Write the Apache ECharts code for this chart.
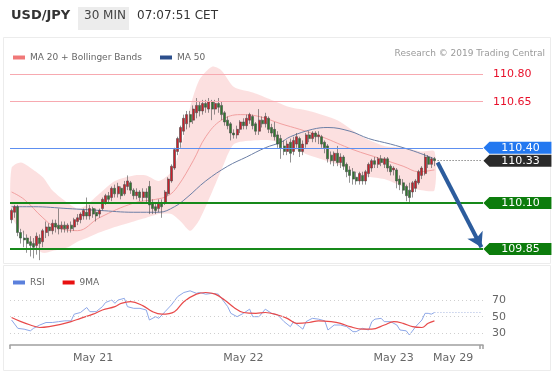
<!DOCTYPE html>
<html>
<head>
<meta charset="utf-8">
<script src="https://cdn.jsdelivr.net/npm/echarts@6/dist/echarts.min.js"></script>
<style>
  html, body { margin: 0; padding: 0; background: #fff; }
  #chart { width: 554px; height: 376px; }
</style>
</head>
<body>
<div id="chart"></div>
<script>
// 30 min candles, May 20 11:00 -> May 23 07:00 (index 0..135)
const opens = [
  110.01,110.05,110.08,109.94,109.91,109.91,109.89,109.88,109.87,109.91,
  109.89,109.94,109.97,109.95,109.99,109.98,109.96,109.98,109.96,109.98,
  109.97,110.00,110.01,110.03,110.05,110.03,110.07,110.05,110.04,110.07,
  110.10,110.14,110.13,110.18,110.15,110.18,110.15,110.19,110.21,110.17,
  110.14,110.16,110.13,110.16,110.19,110.10,110.08,110.07,110.10,110.10,
  110.15,110.22,110.29,110.38,110.43,110.49,110.53,110.58,110.55,110.59,
  110.63,110.60,110.64,110.61,110.65,110.61,110.64,110.63,110.59,110.55,
  110.53,110.48,110.47,110.50,110.54,110.52,110.55,110.57,110.53,110.49,
  110.55,110.53,110.56,110.51,110.50,110.47,110.45,110.41,110.38,110.43,
  110.38,110.42,110.45,110.38,110.42,110.47,110.45,110.48,110.46,110.46,
  110.43,110.41,110.36,110.33,110.37,110.32,110.35,110.31,110.28,110.27,
  110.24,110.22,110.25,110.22,110.26,110.29,110.33,110.31,110.34,110.31,
  110.34,110.30,110.28,110.28,110.23,110.21,110.19,110.17,110.16,110.18,
  110.21,110.25,110.26,110.35,110.31,110.34
];
const closes = [
  110.06,110.08,109.94,109.91,109.90,109.88,109.87,109.86,109.92,109.88,
  109.95,109.97,109.95,109.99,109.97,109.96,109.98,109.96,109.98,109.96,
  110.01,110.02,110.04,110.06,110.03,110.07,110.04,110.03,110.06,110.12,
  110.14,110.12,110.18,110.15,110.19,110.14,110.20,110.22,110.17,110.14,
  110.16,110.13,110.16,110.13,110.09,110.07,110.06,110.10,110.08,110.16,
  110.23,110.30,110.39,110.45,110.51,110.56,110.58,110.54,110.61,110.63,
  110.60,110.64,110.62,110.65,110.61,110.64,110.62,110.58,110.54,110.52,
  110.48,110.47,110.50,110.54,110.52,110.56,110.58,110.52,110.49,110.55,
  110.53,110.57,110.50,110.48,110.46,110.42,110.40,110.38,110.42,110.37,
  110.44,110.46,110.38,110.42,110.47,110.45,110.48,110.46,110.47,110.42,
  110.40,110.34,110.33,110.37,110.32,110.35,110.30,110.27,110.25,110.23,
  110.22,110.26,110.22,110.27,110.31,110.33,110.31,110.34,110.32,110.34,
  110.29,110.27,110.29,110.22,110.20,110.17,110.14,110.13,110.21,110.22,
  110.27,110.29,110.35,110.31,110.34,110.33
];
const lows = [
  109.99,110.02,109.92,109.88,109.86,109.83,109.81,109.80,109.82,109.79,
  109.86,109.91,109.92,109.93,109.94,109.93,109.94,109.94,109.94,109.94,
  109.95,109.98,109.99,110.01,110.01,110.01,110.02,110.00,110.02,110.06,
  110.09,110.10,110.11,110.13,110.13,110.12,110.14,110.17,110.15,110.12,
  110.12,110.11,110.11,110.10,110.04,110.04,110.04,110.05,110.02,110.09,
  110.14,110.21,110.28,110.36,110.40,110.47,110.50,110.51,110.53,110.56,
  110.57,110.58,110.59,110.59,110.55,110.58,110.59,110.55,110.52,110.50,
  110.44,110.45,110.45,110.48,110.50,110.50,110.53,110.50,110.47,110.47,
  110.51,110.51,110.48,110.46,110.44,110.40,110.34,110.36,110.36,110.32,
  110.36,110.40,110.35,110.36,110.40,110.43,110.43,110.43,110.42,110.40,
  110.37,110.32,110.31,110.30,110.30,110.29,110.28,110.24,110.21,110.20,
  110.20,110.20,110.20,110.20,110.24,110.27,110.29,110.29,110.30,110.29,
  110.27,110.25,110.25,110.18,110.17,110.15,110.11,110.10,110.13,110.16,
  110.20,110.23,110.25,110.29,110.29,110.30
];
const highs = [
  110.07,110.09,110.09,109.96,109.95,109.93,109.92,109.91,109.94,109.93,
  109.96,110.00,109.99,110.01,110.01,110.07,110.00,110.00,109.99,110.00,
  110.02,110.04,110.05,110.07,110.13,110.09,110.08,110.07,110.07,110.13,
  110.15,110.16,110.19,110.20,110.21,110.19,110.22,110.25,110.22,110.18,
  110.18,110.17,110.18,110.18,110.22,110.12,110.10,110.12,110.12,110.17,
  110.24,110.31,110.40,110.46,110.52,110.58,110.60,110.60,110.63,110.67,
  110.65,110.66,110.66,110.67,110.66,110.66,110.67,110.65,110.60,110.57,
  110.54,110.50,110.52,110.55,110.56,110.58,110.59,110.58,110.54,110.61,
  110.57,110.59,110.57,110.53,110.54,110.49,110.47,110.44,110.44,110.45,
  110.46,110.48,110.46,110.44,110.48,110.49,110.49,110.49,110.49,110.47,
  110.44,110.42,110.38,110.38,110.41,110.37,110.36,110.32,110.30,110.29,
  110.27,110.27,110.27,110.28,110.32,110.34,110.35,110.35,110.36,110.35,
  110.35,110.31,110.30,110.29,110.25,110.23,110.20,110.21,110.22,110.23,
  110.28,110.30,110.37,110.36,110.35,110.35
];

// Bollinger band (MA 20 +/- 2 sd), read at sample candles
const bandIdx = [0, 3, 7, 10, 13, 18, 21, 24, 28, 33, 39, 43, 47, 51, 54, 57, 60, 64, 67, 71, 77, 83, 89, 95, 104, 112, 119, 125, 131, 135];
const bandUp = [110.29,110.32,110.28,110.24,110.17,110.10,110.07,110.09,110.15,110.22,110.25,110.25,110.22,110.27,110.40,110.62,110.77,110.84,110.82,110.73,110.70,110.66,110.62,110.60,110.55,110.46,110.41,110.40,110.38,110.38];
const bandLow = [110.03,109.95,109.87,109.83,109.84,109.86,109.89,109.91,109.94,109.97,110.00,110.02,110.04,110.04,110.00,109.95,110.01,110.16,110.28,110.42,110.44,110.44,110.40,110.36,110.31,110.25,110.23,110.19,110.17,110.17];

const ma20Idx = [0, 4, 10, 14, 21, 28, 39, 46, 50, 53, 58, 62, 67, 73, 79, 86, 92, 99, 109, 118, 125, 130, 135];
const ma20 = [110.16,110.12,110.02,109.97,109.95,110.02,110.10,110.12,110.14,110.19,110.33,110.46,110.55,110.58,110.57,110.53,110.50,110.46,110.39,110.34,110.30,110.27,110.28];

const ma50Idx = [0, 7, 18, 28, 39, 47, 52, 56, 62, 69, 75, 81, 86, 89, 96, 101, 108, 114, 121, 127, 132, 135];
const ma50 = [110.08,110.08,110.07,110.06,110.05,110.05,110.08,110.13,110.22,110.30,110.35,110.40,110.43,110.46,110.50,110.51,110.49,110.45,110.42,110.39,110.36,110.34];

const rsiIdx = [0,2,4,6,7,9,11,13,15,17,19,20,22,24,25,27,29,30,32,33,34,36,37,39,41,43,44,46,47,49,51,53,55,57,59,60,62,64,66,67,69,70,72,74,76,77,79,81,83,85,87,89,90,92,93,94,96,98,100,101,103,105,107,109,110,112,114,115,116,118,119,121,123,124,126,127,129,131,132,133,134,135];
const rsi = [46,36,35,33,36,40,43,43,44,45,45,53,55,61,56,56,62,67,70,66,70,72,62,60,60,58,46,50,48,56,64,74,79,81,78,79,77,78,77,72,62,54,50,54,59,50,50,59,54,52,44,38,44,38,35,44,48,47,45,34,40,40,38,32,32,36,34,44,47,48,44,44,40,34,33,28,38,46,54,54,53,55];

const rsiMaIdx = [0,3,6,9,12,16,19,22,26,29,33,35,38,42,45,48,52,55,59,62,65,68,71,74,78,81,85,88,91,95,98,102,105,108,112,115,119,122,125,128,131,133,135];
const rsiMa = [49,44,40,37,38,41,44,48,53,58,62,66,68,63,56,53,56,68,77,79,77,70,61,55,54,55,52,48,42,43,45,44,42,38,35,35,40,44,42,38,37,42,45];

const resistances = [110.80, 110.65];
const pivot = 110.40;
const lastPrice = 110.33;
const supports = [110.10, 109.85];
const target = 109.86;
const rsiLevels = [30, 50, 70];
const rsiLast = 55;

const tickIndex = [26, 74, 122, 141];
const tickLabels = ['May 21', 'May 22', 'May 23', 'May 29'];

const SLOTS = 151;
const LAST = opens.length - 1;
const FONT = 'DejaVu Sans';
const slots = Array.from({ length: SLOTS }, (_, k) => String(k));
const candles = opens.map((o, k) => [o, closes[k], lows[k], highs[k]]);
const pairs = (xs, ys) => xs.map((x, k) => [x, ys[k]]);
const tagPath = 'path://M0,6L6,0L68,0L68,12L6,12Z';

function tag(value, color) {
  return { coord: [SLOTS - 1, value], value: value, itemStyle: { color: color } };
}

const chart = echarts.init(document.getElementById('chart'), null, { renderer: 'canvas' });

chart.setOption({
  animation: false,
  backgroundColor: '#fff',
  textStyle: { fontFamily: FONT },
  graphic: [
    { type: 'rect', shape: { x: 3.5, y: 37.5, width: 547, height: 226 }, style: { fill: 'none', stroke: '#ececec' }, silent: true },
    { type: 'rect', shape: { x: 3.5, y: 265.5, width: 547, height: 105 }, style: { fill: 'none', stroke: '#ececec' }, silent: true },
    { type: 'text', left: 11, top: 9, style: { text: 'USD/JPY', font: 'bold 13px "DejaVu Sans"', fill: '#333' } },
    { type: 'rect', shape: { x: 78, y: 7, width: 51, height: 23 }, style: { fill: '#ececec' }, silent: true },
    { type: 'text', left: 84, top: 10, style: { text: '30 MIN', font: '12px "DejaVu Sans"', fill: '#444' } },
    { type: 'text', left: 137, top: 10, style: { text: '07:07:51 CET', font: '12px "DejaVu Sans"', fill: '#333' } },
    { type: 'text', right: 9, top: 49, style: { text: 'Research \u00a9 2019 Trading Central', font: '9px "DejaVu Sans"', fill: '#9a9a9a' } }
  ],
  legend: [
    {
      left: 8, top: 48, icon: 'rect', itemWidth: 12, itemHeight: 4, itemGap: 18,
      textStyle: { fontSize: 9, color: '#666', fontFamily: FONT },
      data: [
        { name: 'MA 20 + Bollinger Bands', itemStyle: { color: '#f07878' } },
        { name: 'MA 50', itemStyle: { color: '#2c4f8c' } }
      ]
    },
    {
      left: 8, top: 273, icon: 'rect', itemWidth: 12, itemHeight: 4, itemGap: 18,
      textStyle: { fontSize: 9, color: '#666', fontFamily: FONT },
      data: [
        { name: 'RSI', itemStyle: { color: '#5b80dc' } },
        { name: '9MA', itemStyle: { color: '#e81010' } }
      ]
    }
  ],
  grid: [
    { left: 10, top: 40, width: 473, height: 222 },
    { left: 10, top: 285, width: 473, height: 60 }
  ],
  xAxis: [
    { type: 'category', gridIndex: 0, data: slots, boundaryGap: true, show: false },
    {
      type: 'category', gridIndex: 1, data: slots, boundaryGap: true,
      axisLine: { lineStyle: { color: '#a0a0a0', width: 1.5 } },
      axisTick: { show: true, length: 4, lineStyle: { color: '#a0a0a0', width: 1.5 },
        interval: (i) => i === 0 || i === SLOTS - 1 },
      axisLabel: {
        color: '#666', fontSize: 11, margin: 8, fontFamily: FONT,
        interval: (i) => tickIndex.indexOf(i) >= 0,
        formatter: (v, i) => { const k = tickIndex.indexOf(i); return k >= 0 ? tickLabels[k] : ''; }
      },
      splitLine: { show: false }
    }
  ],
  yAxis: [
    { type: 'value', gridIndex: 0, min: 109.78, max: 110.985, show: false },
    { type: 'value', gridIndex: 1, min: 16, max: 88, show: false }
  ],
  series: [
    {
      type: 'custom', name: 'band', xAxisIndex: 0, yAxisIndex: 0, z: 1, silent: true,
      data: bandIdx.map((x, k) => [x, bandUp[k], bandLow[k]]),
      encode: { x: 0, y: [1, 2] },
      renderItem: function (params, api) {
        if (params.dataIndex !== 0) return null;
        const top = bandIdx.map((x, k) => api.coord([x, bandUp[k]]));
        const bottom = bandIdx.map((x, k) => api.coord([x, bandLow[k]])).reverse();
        return {
          type: 'polygon',
          shape: { points: top.concat(bottom), smooth: 0.25 },
          style: { fill: 'rgba(247,160,160,0.33)' }
        };
      }
    },
    {
      type: 'line', name: 'MA 20 + Bollinger Bands', xAxisIndex: 0, yAxisIndex: 0, z: 2,
      data: pairs(ma20Idx, ma20), smooth: 0.4, showSymbol: false, symbol: 'none',
      lineStyle: { color: '#f2a0a0', width: 1 }, itemStyle: { color: '#f07878' }
    },
    {
      type: 'line', name: 'MA 50', xAxisIndex: 0, yAxisIndex: 0, z: 2,
      data: pairs(ma50Idx, ma50), smooth: 0.4, showSymbol: false, symbol: 'none',
      lineStyle: { color: '#6c7fa6', width: 1 }, itemStyle: { color: '#2c4f8c' },
      markLine: {
        silent: true, symbol: 'none', animation: false,
        data: [
          ...resistances.map(v => ({
            yAxis: v, lineStyle: { color: '#f7a9b0', width: 1.2, type: 'solid' },
            label: { show: true, position: 'end', distance: 10, color: '#e8102a', fontSize: 11, fontFamily: FONT, formatter: v.toFixed(2) }
          })),
          { yAxis: pivot, lineStyle: { color: '#5d8ff0', width: 1.2, type: 'solid' }, label: { show: false } },
          ...supports.map(v => ({
            yAxis: v, lineStyle: { color: '#16891a', width: 2, type: 'solid' }, label: { show: false }
          }))
        ]
      },
      markPoint: {
        symbol: tagPath, symbolSize: [68, 12], symbolOffset: [36, 0], symbolKeepAspect: false,
        silent: true, animation: false,
        label: { show: true, position: 'inside', offset: [3, 0], color: '#fff', fontSize: 11, fontFamily: FONT,
          formatter: (p) => p.value.toFixed(2) },
        data: [
          tag(pivot, '#2378f0'),
          tag(lastPrice, '#2a2a2a'),
          tag(supports[0], '#0c7c0c'),
          tag(supports[1], '#0c7c0c')
        ]
      }
    },
    {
      type: 'candlestick', name: 'USD/JPY', xAxisIndex: 0, yAxisIndex: 0, z: 3,
      data: candles, barWidth: 2.5,
      itemStyle: { color: '#cc1f2a', color0: '#2e7a2e', borderColor: '#4a4a4a', borderColor0: '#4a4a4a', borderWidth: 0.6 },
      markLine: {
        silent: true, animation: false, symbol: ['none', 'arrow'], symbolSize: [13, 14],
        data: [
          [
            { coord: [LAST + 1, lastPrice], symbol: 'none', lineStyle: { color: '#555', width: 1, type: [1, 2] } },
            { coord: [SLOTS - 1, lastPrice], symbol: 'none' }
          ],
          [
            { coord: [LAST + 1, lastPrice - 0.01], lineStyle: { color: '#2c5c9d', width: 4, type: 'solid' } },
            { coord: [SLOTS - 1, target] }
          ]
        ],
        label: { show: false }
      }
    },
    {
      type: 'line', name: 'RSI', xAxisIndex: 1, yAxisIndex: 1, z: 2,
      data: pairs(rsiIdx, rsi), showSymbol: false, symbol: 'none',
      lineStyle: { color: '#8ea8e8', width: 1 }, itemStyle: { color: '#5b80dc' },
      markLine: {
        silent: true, symbol: 'none', animation: false,
        data: [
          ...rsiLevels.map(v => ({
            yAxis: v, lineStyle: { color: '#cfcfcf', width: 1, type: [1, 3] },
            label: { show: true, position: 'end', distance: 9, color: '#666', fontSize: 11, fontFamily: FONT, formatter: String(v) }
          })),
          [
            { coord: [LAST, rsiLast], lineStyle: { color: '#a8b8e0', width: 1, type: [1, 2] }, label: { show: false } },
            { coord: [SLOTS - 1, rsiLast] }
          ]
        ]
      }
    },
    {
      type: 'line', name: '9MA', xAxisIndex: 1, yAxisIndex: 1, z: 3,
      data: pairs(rsiMaIdx, rsiMa), smooth: 0.4, showSymbol: false, symbol: 'none',
      lineStyle: { color: '#e84a4a', width: 1.2 }, itemStyle: { color: '#e81010' }
    }
  ]
});
</script>
</body>
</html>
